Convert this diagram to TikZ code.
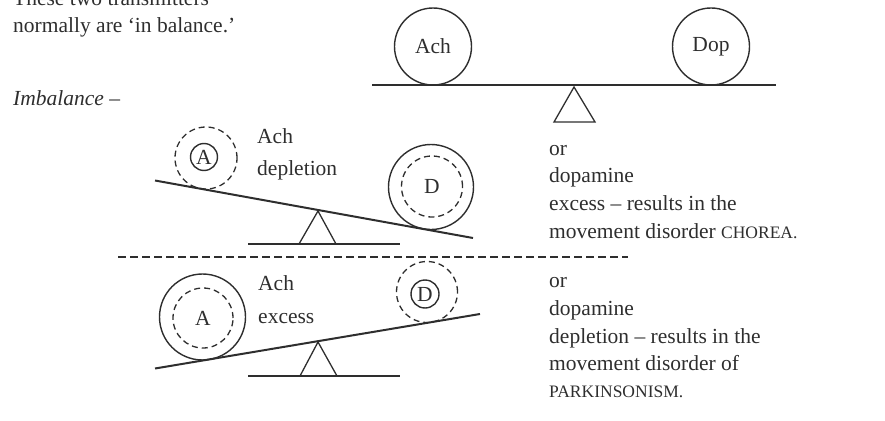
\documentclass[tikz,border=0pt]{standalone}
\usepackage{fontspec}
\setmainfont{Liberation Serif}
\begin{document}
\begin{tikzpicture}[x=1pt,y=-1pt, color=black!82,
  txt/.style={anchor=base west, inner sep=0pt, font=\fontsize{21.5}{26}\selectfont},
  ball/.style={circle, draw, line width=1.4pt, inner sep=0pt, font=\fontsize{21.5}{26}\selectfont},
  dball/.style={circle, draw, dash pattern=on 6pt off 4pt, line width=1.3pt, inner sep=0pt, font=\fontsize{21.5}{26}\selectfont},
  beam/.style={line width=2pt},
  topbeam/.style={line width=2.6pt},
  ground/.style={line width=1.1pt},
  fulc/.style={line width=1.3pt, line join=miter},
  sep/.style={line width=1.2pt, dash pattern=on 8pt off 4pt}
  ]
\useasboundingbox (0,0) rectangle (885,420);

% ---------- top: balance ----------
\node[txt] (t1) at (13,5.5) {These two transmitters};
\node[txt] (t2) at (13,33) {normally are ‘in balance.’};
\coordinate (b0l) at (372,85);
\coordinate (b0r) at (776,85);
\draw[topbeam] (b0l) -- (b0r);
\node[ball, minimum size=77pt] (ach0) at (433,46.5) {Ach};
\node[ball, minimum size=77pt] (dop0) at (711,46.5) {Dop};
\coordinate (f0a) at (574,87);
\coordinate (f0l) at (554,122);
\coordinate (f0r) at (595,122);
\draw[fulc] (f0a) -- (f0l) -- (f0r) -- cycle;

% ---------- imbalance 1 ----------
\node[txt, font=\fontsize{21.5}{26}\selectfont\itshape] (imb) at (13,105) {Imbalance –};
\coordinate (b1l) at (155,180.5);
\coordinate (b1r) at (473,238);
\draw[beam] (b1l) -- (b1r);
\node[dball, minimum size=62pt] (a1o) at (206,158) {};
\node[ball, minimum size=27pt] (a1i) at (204,157) {A};
\node[ball, minimum size=85pt] (d1o) at (431,187) {};
\node[dball, minimum size=61pt] (d1i) at (432,186.5) {D};
\coordinate (f1a) at (318,211);
\coordinate (f1l) at (299,244);
\coordinate (f1r) at (336,244);
\draw[fulc] (f1a) -- (f1l) -- (f1r) -- cycle;
\coordinate (g1l) at (248,244);
\coordinate (g1r) at (400,244);
\draw[ground] (g1l) -- (g1r);
\node[txt] (l1a) at (257,143) {Ach};
\node[txt] (l1b) at (257,175) {depletion};

\node[txt] (r1a) at (549,155) {or};
\node[txt] (r1b) at (549,182.5) {dopamine};
\node[txt] (r1c) at (549,210.5) {excess – results in the};
\node[txt] (r1d) at (549,238) {movement disorder {\fontsize{17.5}{20}\selectfont CHOREA.}};

% ---------- separator ----------
\coordinate (sl) at (118,257);
\coordinate (sr) at (628,257);
\draw[sep] (sl) -- (sr);

% ---------- imbalance 2 ----------
\coordinate (b2l) at (155,368.5);
\coordinate (b2r) at (480,314);
\draw[beam] (b2l) -- (b2r);
\node[ball, minimum size=86pt] (a2o) at (202.5,317) {};
\node[dball, minimum size=60pt] (a2i) at (203,318) {A};
\node[dball, minimum size=61pt] (d2o) at (427,292) {};
\node[ball, minimum size=28pt] (d2i) at (425,294) {D};
\coordinate (f2a) at (318,342);
\coordinate (f2l) at (300,376);
\coordinate (f2r) at (337,376);
\draw[fulc] (f2a) -- (f2l) -- (f2r) -- cycle;
\coordinate (g2l) at (248,376);
\coordinate (g2r) at (400,376);
\draw[ground] (g2l) -- (g2r);
\node[txt] (l2a) at (258,290.5) {Ach};
\node[txt] (l2b) at (258,323) {excess};

\node[txt] (r2a) at (549,287) {or};
\node[txt] (r2b) at (549,315) {dopamine};
\node[txt] (r2c) at (549,343) {depletion – results in the};
\node[txt] (r2d) at (549,370) {movement disorder of};
\node[txt] (r2e) at (549,397.5) {{\fontsize{17.5}{20}\selectfont PARKINSONISM.}};
\end{tikzpicture}
\end{document}
